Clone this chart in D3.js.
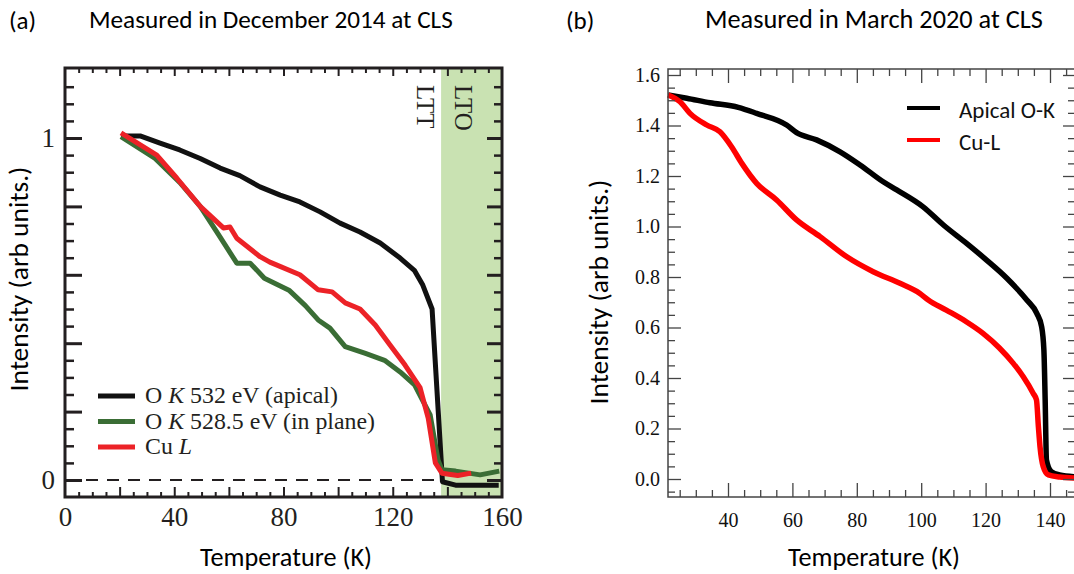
<!DOCTYPE html>
<html><head><meta charset="utf-8">
<script src="https://cdn.jsdelivr.net/npm/d3@7"></script>
<style>body{margin:0;background:#fff}svg{display:block}</style>
</head><body>
<svg id="c" width="1074" height="574"></svg>
<script>
// ---------- Data: panel (a) ----------
const tempA_black = [20.5,27.5,34.8,42,49.5,56.8,64,71.4,78.8,86,93.4,100.7,108,115.4,122.7,128,131,134.4,138.2,143,158.8];
const valA_black  = [1.006,1.006,0.985,0.965,0.94,0.912,0.89,0.857,0.833,0.813,0.784,0.751,0.725,0.693,0.649,0.612,0.57,0.50,-0.005,-0.015,-0.015];
const tempA_green = [20.5,33,42,49.5,56.8,62.9,67.8,73,82,88,92.7,97,102.6,110,117,122.7,128,133.7,136.6,138,143,152,159];
const valA_green  = [1.004,0.94,0.87,0.80,0.71,0.634,0.634,0.59,0.555,0.51,0.468,0.444,0.39,0.37,0.35,0.316,0.278,0.19,0.058,0.03,0.026,0.015,0.026];
const tempA_red   = [20.5,33.6,40.9,49.5,58,60.4,62.9,71.4,75,86,92.7,97.8,102.6,108,113.6,119,124.5,130,133,135.6,138,143.8,148.7];
const valA_red    = [1.015,0.95,0.883,0.80,0.737,0.74,0.707,0.653,0.637,0.6,0.556,0.55,0.518,0.5,0.453,0.395,0.336,0.27,0.18,0.05,0.02,0.013,0.02];
const ltoStartA = 137.7;
const xTickLabelsA = [0,40,80,120,160];
const yTickLabelsA = [0,1];
const legendA = ["532 eV (apical)","528.5 eV (in plane)"];

// ---------- Data: panel (b) ----------
const tempB_black = [21.4,27.2,34.4,43.2,48.9,58.2,61.3,67.5,74.8,81,88.2,92.4,100.6,106.9,114.1,120.3,126.6,132.8,135.9,137.4,138.1,138.5,138.9,140.4,143,147.8];
const valB_black  = [1.521,1.508,1.49,1.472,1.448,1.402,1.372,1.343,1.296,1.244,1.177,1.145,1.078,1.006,0.933,0.867,0.795,0.709,0.656,0.603,0.511,0.313,0.075,0.029,0.016,0.009];
const tempB_red   = [21.4,25.1,28.2,33.4,37.5,41.1,44.3,48.9,55.1,61.3,68.6,76.9,85.1,93.4,99.6,102.2,107.8,114,119.2,124.3,128.6,131.7,134.8,135.8,136.4,136.9,137.9,139.5,143,147.8];
const valB_red    = [1.521,1.494,1.448,1.402,1.375,1.316,1.25,1.171,1.105,1.026,0.96,0.88,0.821,0.775,0.735,0.709,0.669,0.623,0.577,0.519,0.458,0.405,0.339,0.313,0.207,0.128,0.049,0.016,0.008,0.004];
const xTickLabelsB = [40,60,80,100,120,140];
const yTickLabelsB = [0,0.2,0.4,0.6,0.8,1.0,1.2,1.4,1.6];
const legendB = ["Apical O-K","Cu-L"];

const svg = d3.select("#c");
svg.append("rect").attr("width",1074).attr("height",574).attr("fill","#fff");
const SANS = "Carlito, Lato, 'Open Sans', sans-serif";
const SERIF = "'Liberation Serif', 'Times New Roman', serif";

function fit(sel, w){
  const l = sel.node().getComputedTextLength();
  const fs = parseFloat(sel.attr("font-size"));
  sel.attr("font-size", fs*w/l);
  return sel;
}
const zip = (a,b)=>a.map((v,i)=>[v,b[i]]);

// ================= Panel (a) =================
const xA = d3.scaleLinear([0,160],[65,502]);
const yA = d3.scaleLinear([0,1],[480,138]);
const A_top = 68, A_bot = 497;
const gA = svg.append("g");
gA.append("rect").attr("x",xA(ltoStartA)).attr("y",A_top).attr("width",xA(160)-xA(ltoStartA)).attr("height",A_bot-A_top).attr("fill","#c9e2b2");
gA.append("line").attr("x1",xA(0)).attr("x2",xA(ltoStartA)).attr("y1",yA(0)).attr("y2",yA(0))
  .attr("stroke","#231f20").attr("stroke-width",2).attr("stroke-dasharray","12,9");
gA.append("text").attr("transform",`translate(${xA(ltoStartA)-24},85) rotate(90)`).attr("font-family",SERIF).attr("font-size",25).attr("fill","#231f20").text("LTT");
gA.append("text").attr("transform",`translate(${xA(ltoStartA)+14},85) rotate(90)`).attr("font-family",SERIF).attr("font-size",25).attr("fill","#231f20").text("LTO");

const lineA = d3.line().x(d=>xA(d[0])).y(d=>yA(d[1]));
[[tempA_black,valA_black,"#111111"],[tempA_green,valA_green,"#3a6d35"],[tempA_red,valA_red,"#ec2227"]].forEach(([t,v,c])=>{
  gA.append("path").attr("d",lineA(zip(t,v))).attr("fill","none").attr("stroke",c).attr("stroke-width",5).attr("stroke-linejoin","round");
});

const yMinorA = d3.range(0,25).map(i=>-0.05+i*0.05).filter(v=>v>-0.04 && v<1.19).filter(v=>Math.abs(Math.round(v*5)-v*5)>1e-6);
const yMajorA = [0,0.2,0.4,0.6,0.8,1.0];
const xMinorA = d3.range(1,32).map(i=>i*5).filter(v=>v%20!==0);
const xMajorA = [20,40,60,80,100,120,140];
function styleA(g, w){ g.select(".domain").remove(); g.selectAll("line").attr("stroke","#231f20").attr("stroke-width",w); }
gA.append("g").attr("transform",`translate(${xA(0)},0)`).call(d3.axisLeft(yA).tickValues(yMinorA).tickSize(-9).tickFormat("")).call(g=>styleA(g,2.5));
gA.append("g").attr("transform",`translate(${xA(0)},0)`).call(d3.axisLeft(yA).tickValues(yMajorA).tickSize(-17).tickPadding(10).tickFormat(d=>yTickLabelsA.includes(d)?d3.format("d")(d):""))
  .call(g=>{styleA(g,3); g.selectAll("text").attr("font-family",SERIF).attr("font-size",27).attr("fill","#231f20");});
gA.append("g").attr("transform",`translate(${xA(160)},0)`).call(d3.axisRight(yA).tickValues(yMinorA).tickSize(-8).tickFormat("")).call(g=>styleA(g,2.5));
gA.append("g").attr("transform",`translate(${xA(160)},0)`).call(d3.axisRight(yA).tickValues(yMajorA).tickSize(-15).tickFormat("")).call(g=>styleA(g,3));
gA.append("g").attr("transform",`translate(0,${A_bot})`).call(d3.axisBottom(xA).tickValues(xMinorA).tickSize(-5).tickFormat("")).call(g=>styleA(g,2));
gA.append("g").attr("transform",`translate(0,${A_bot})`).call(d3.axisBottom(xA).tickValues(xMajorA).tickSize(-10).tickFormat("")).call(g=>styleA(g,2));
gA.append("g").attr("transform",`translate(0,${A_bot})`).call(d3.axisBottom(xA).tickValues(xTickLabelsA).tickSize(0).tickPadding(10).tickFormat(d3.format("d")))
  .call(g=>{g.select(".domain").remove(); g.selectAll("text").attr("font-family",SERIF).attr("font-size",27).attr("fill","#231f20");});
gA.append("g").attr("transform",`translate(0,${A_top})`).call(d3.axisTop(xA).tickValues(xMinorA).tickSize(-5).tickFormat("")).call(g=>styleA(g,2));
gA.append("g").attr("transform",`translate(0,${A_top})`).call(d3.axisTop(xA).tickValues(xMajorA).tickSize(-8).tickFormat("")).call(g=>styleA(g,2));
gA.append("rect").attr("x",xA(0)).attr("y",A_top).attr("width",xA(160)-xA(0)).attr("height",A_bot-A_top).attr("fill","none").attr("stroke","#231f20").attr("stroke-width",3);

// legend (a)
const legA = [["#111111","O ","K"," "+legendA[0]],["#3a6d35","O ","K"," "+legendA[1]],["#ec2227","Cu ","L",""]];
let legFs = null;
legA.forEach((d,i)=>{
  const y = 396 + i*25.5;
  gA.append("line").attr("x1",98).attr("x2",135).attr("y1",y).attr("y2",y).attr("stroke",d[0]).attr("stroke-width",5);
  const t = gA.append("text").attr("x",145).attr("y",y+7).attr("font-family",SERIF).attr("font-size",20).attr("fill","#231f20");
  t.append("tspan").text(d[1]);
  t.append("tspan").attr("font-style","italic").text(d[2]);
  if(d[3]) t.append("tspan").text(d[3]);
  if(i===0){ fit(t,193); legFs = t.attr("font-size"); } else t.attr("font-size",legFs);
});

svg.append("text").attr("x",9).attr("y",29).attr("font-family",SANS).attr("font-size",25).text("(a)");
fit(svg.append("text").attr("x",89).attr("y",28).attr("font-family",SANS).attr("font-size",22).text("Measured in December 2014 at CLS"),364);
fit(svg.append("text").attr("x",286).attr("y",566).attr("text-anchor","middle").attr("font-family",SANS).attr("font-size",22).text("Temperature (K)"),172);
fit(svg.append("text").attr("transform","translate(28,279) rotate(-90)").attr("text-anchor","middle").attr("font-family",SANS).attr("font-size",22).text("Intensity (arb units.)"),225);

// ================= Panel (b) =================
const xB = d3.scaleLinear([40,140],[728,1050]);
const yB = d3.scaleLinear([0,1.6],[479,75]);
const B_left = 668, B_right = 1076, B_top = 69, B_bot = 497;
const gB = svg.append("g");
const lineB = d3.line().x(d=>xB(d[0])).y(d=>yB(d[1])).curve(d3.curveMonotoneX);
[[tempB_black,valB_black,"#000000"],[tempB_red,valB_red,"#ff0000"]].forEach(([t,v,c])=>{
  gB.append("path").attr("d",lineB(zip(t,v))).attr("fill","none").attr("stroke",c).attr("stroke-width",5.5).attr("stroke-linejoin","round");
});
const yMinorB = d3.range(-1,33).map(i=>i*0.05).filter(v=>Math.abs(Math.round(v*5)-v*5)>1e-6);
const yMajorB = yTickLabelsB;
const xMinorB = d3.range(5,30).map(i=>i*5).filter(v=>v%20!==0);
function styleB(g){ g.select(".domain").remove(); g.selectAll("line").attr("stroke","#444").attr("stroke-width",1.3); }
gB.append("g").attr("transform",`translate(${B_left},0)`).call(d3.axisLeft(yB).tickValues(yMinorB).tickSize(-7).tickFormat("")).call(styleB);
gB.append("g").attr("transform",`translate(${B_left},0)`).call(d3.axisLeft(yB).tickValues(yMajorB).tickSize(-13).tickPadding(8).tickFormat(d3.format(".1f")))
  .call(g=>{styleB(g); g.selectAll("text").attr("font-family",SERIF).attr("font-size",20).attr("fill","#111");});
gB.append("g").attr("transform",`translate(${B_right},0)`).call(d3.axisRight(yB).tickValues(yMinorB).tickSize(-8).tickFormat("")).call(styleB);
gB.append("g").attr("transform",`translate(${B_right},0)`).call(d3.axisRight(yB).tickValues(yMajorB).tickSize(-13).tickFormat("")).call(styleB);
gB.append("g").attr("transform",`translate(0,${B_bot})`).call(d3.axisBottom(xB).tickValues(xMinorB).tickSize(-7).tickFormat("")).call(styleB);
gB.append("g").attr("transform",`translate(0,${B_bot})`).call(d3.axisBottom(xB).tickValues(xTickLabelsB).tickSize(-14).tickPadding(16).tickFormat(d3.format("d")))
  .call(g=>{styleB(g); g.selectAll("text").attr("font-family",SERIF).attr("font-size",20).attr("fill","#111");});
gB.append("g").attr("transform",`translate(0,${B_top})`).call(d3.axisTop(xB).tickValues(xMinorB).tickSize(-7).tickFormat("")).call(styleB);
gB.append("g").attr("transform",`translate(0,${B_top})`).call(d3.axisTop(xB).tickValues(xTickLabelsB).tickSize(-14).tickFormat("")).call(styleB);
gB.append("rect").attr("x",B_left).attr("y",B_top).attr("width",B_right-B_left).attr("height",B_bot-B_top).attr("fill","none").attr("stroke","#444").attr("stroke-width",1.5);

// legend (b)
let legBFs = null;
[["#000000",legendB[0]],["#ff0000",legendB[1]]].forEach((d,i)=>{
  const y = 108 + i*32;
  gB.append("line").attr("x1",907).attr("x2",940).attr("y1",y).attr("y2",y).attr("stroke",d[0]).attr("stroke-width",4);
  const t = gB.append("text").attr("x",959).attr("y",y+10).attr("font-family",SANS).attr("font-size",20).attr("fill","#111").text(d[1]);
  if(i===0){ fit(t,96); legBFs = t.attr("font-size"); } else t.attr("font-size",legBFs);
});

svg.append("text").attr("x",566).attr("y",29).attr("font-family",SANS).attr("font-size",25).text("(b)");
fit(svg.append("text").attr("x",705).attr("y",28).attr("font-family",SANS).attr("font-size",22).text("Measured in March 2020 at CLS"),338);
fit(svg.append("text").attr("x",874).attr("y",566).attr("text-anchor","middle").attr("font-family",SANS).attr("font-size",22).text("Temperature (K)"),172);
fit(svg.append("text").attr("transform","translate(608,292) rotate(-90)").attr("text-anchor","middle").attr("font-family",SANS).attr("font-size",22).text("Intensity (arb units.)"),225);
</script>
</body></html>
